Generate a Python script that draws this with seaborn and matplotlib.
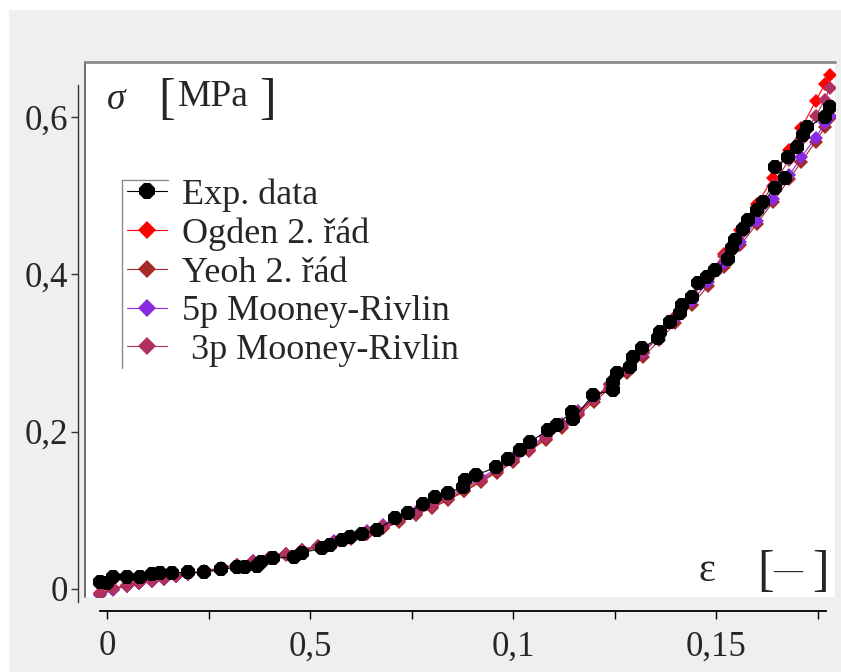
import matplotlib
matplotlib.use("Agg")
import matplotlib.pyplot as plt
from matplotlib.lines import Line2D
from matplotlib.patches import Rectangle
import seaborn as sns
import pandas as pd

# ---------------- data ----------------
eps_exp = [-0.0017, -0.0001, 0.0015, 0.0049, 0.0081, 0.011, 0.013, 0.016, 0.020, 0.024,
           0.028, 0.032, 0.034, 0.037, 0.038, 0.041, 0.046, 0.048, 0.053, 0.0549,
           0.058, 0.0599, 0.0627, 0.0664, 0.0709, 0.0741, 0.0778, 0.0808, 0.084, 0.0877,
           0.0882, 0.091, 0.0959, 0.0988, 0.1017, 0.1042, 0.1086, 0.1108, 0.1145, 0.1148,
           0.1197, 0.1246, 0.1246, 0.1256, 0.1288, 0.1296, 0.1318, 0.1357, 0.1362, 0.1387,
           0.1411, 0.1416, 0.1441, 0.1456, 0.1478, 0.1498, 0.153, 0.1539, 0.1547, 0.1567,
           0.1579, 0.1601, 0.1616, 0.1645, 0.167, 0.1645, 0.1677, 0.170, 0.1714, 0.1724,
           0.1768, 0.178]
sigma_exp = [0.0093, 0.0076, 0.0153, 0.0156, 0.0156, 0.019, 0.0207, 0.020, 0.022, 0.021,
             0.025, 0.0276, 0.0276, 0.029, 0.0347, 0.039, 0.041, 0.046, 0.052, 0.056,
             0.0623, 0.066, 0.070, 0.075, 0.090, 0.0966, 0.108, 0.117, 0.122, 0.130,
             0.1386, 0.145, 0.155, 0.165, 0.177, 0.187, 0.202, 0.2085, 0.2254, 0.216,
             0.2467, 0.253, 0.2636, 0.2746, 0.282, 0.295, 0.306, 0.319, 0.327, 0.3395,
             0.351, 0.361, 0.371, 0.389, 0.3967, 0.4056, 0.4196, 0.4336, 0.4437, 0.4577,
             0.469, 0.482, 0.492, 0.51, 0.5226, 0.5366, 0.549, 0.562, 0.577, 0.587,
             0.600, 0.613]

eps_model = [-0.0017, 0.0015, 0.005, 0.008, 0.011, 0.014, 0.017, 0.020, 0.024, 0.028,
             0.032, 0.036, 0.040, 0.044, 0.048, 0.052, 0.056, 0.060, 0.064, 0.068,
             0.072, 0.076, 0.080, 0.084, 0.088, 0.092, 0.096, 0.100, 0.104, 0.108,
             0.112, 0.116, 0.120, 0.124, 0.128, 0.132, 0.136, 0.140, 0.144, 0.148,
             0.152, 0.156, 0.160, 0.164, 0.168, 0.171, 0.1745, 0.1768, 0.178]
sigma_ogden = [-0.005, 0.001, 0.005, 0.008, 0.011, 0.014, 0.016, 0.019, 0.022, 0.026,
               0.030, 0.034, 0.039, 0.044, 0.049, 0.054, 0.059, 0.065, 0.071, 0.078,
               0.086, 0.095, 0.104, 0.114, 0.125, 0.137, 0.150, 0.163, 0.177, 0.191,
               0.207, 0.223, 0.241, 0.259, 0.279, 0.300, 0.322, 0.346, 0.371, 0.398,
               0.426, 0.457, 0.489, 0.522, 0.558, 0.586, 0.620, 0.642, 0.653]
sigma_yeoh = [-0.006, 0.000, 0.004, 0.007, 0.010, 0.013, 0.016, 0.019, 0.022, 0.026,
              0.030, 0.034, 0.039, 0.043, 0.048, 0.053, 0.058, 0.064, 0.070, 0.077,
              0.085, 0.094, 0.103, 0.113, 0.124, 0.136, 0.148, 0.161, 0.175, 0.190,
              0.205, 0.221, 0.238, 0.256, 0.275, 0.295, 0.316, 0.338, 0.361, 0.385,
              0.410, 0.437, 0.464, 0.492, 0.521, 0.543, 0.569, 0.587, 0.599]
sigma_mr5 = [-0.008, -0.001, 0.004, 0.007, 0.010, 0.013, 0.016, 0.019, 0.023, 0.027,
             0.031, 0.035, 0.040, 0.045, 0.050, 0.055, 0.061, 0.067, 0.074, 0.081,
             0.089, 0.098, 0.108, 0.118, 0.129, 0.141, 0.153, 0.166, 0.180, 0.195,
             0.210, 0.226, 0.243, 0.261, 0.280, 0.300, 0.321, 0.343, 0.366, 0.390,
             0.415, 0.441, 0.468, 0.496, 0.526, 0.549, 0.574, 0.592, 0.602]
sigma_mr3 = [-0.007, 0.000, 0.004, 0.007, 0.010, 0.013, 0.016, 0.019, 0.023, 0.027,
             0.031, 0.035, 0.040, 0.045, 0.050, 0.055, 0.060, 0.066, 0.073, 0.080,
             0.088, 0.097, 0.106, 0.116, 0.127, 0.139, 0.151, 0.164, 0.178, 0.193,
             0.208, 0.225, 0.242, 0.261, 0.280, 0.301, 0.323, 0.346, 0.371, 0.396,
             0.423, 0.452, 0.482, 0.513, 0.546, 0.571, 0.601, 0.622, 0.637]

series_labels = ["Exp. data", "Ogden 2. řád", "Yeoh 2. řád", "5p Mooney-Rivlin", " 3p Mooney-Rivlin"]
x_ticks = [0, 0.05, 0.1, 0.15]
x_ticklabels = ["0", "0,5", "0,1", "0,15"]
x_minor = [0.025, 0.075, 0.125, 0.175]
y_ticks = [0, 0.2, 0.4, 0.6]
y_ticklabels = ["0", "0,2", "0,4", "0,6"]

# ---------------- figure ----------------
sns.set_style("white")
plt.rcParams["font.family"] = ["Liberation Serif", "DejaVu Serif"]

W, H = 841, 672
fig = plt.figure(figsize=(W / 100, H / 100), dpi=100, facecolor="#efefef")
fig.patches.append(Rectangle((0, 1 - 9 / H), 1, 9 / H, transform=fig.transFigure,
                             color="white", zorder=-10))
fig.patches.append(Rectangle((0, 0), 8 / W, 1, transform=fig.transFigure,
                             color="white", zorder=-10))

ax = fig.add_axes([85 / W, 1 - 597 / H, 750 / W, 535 / H])
ax.set_facecolor("white")

models = [
    (eps_model, sigma_ogden, series_labels[1], "#ff0000", 2),
    (eps_model, sigma_yeoh, series_labels[2], "#a52a2a", 2),
    (eps_model, sigma_mr5, series_labels[3], "#8a2be2", 2),
    (eps_model, sigma_mr3, series_labels[4], "#b03060", 2),
]

sns.lineplot(x=eps_exp, y=sigma_exp, ax=ax, sort=False, estimator=None,
             color="black", marker="8", markersize=10.5, markeredgewidth=0,
             linewidth=0.8, label=series_labels[0], zorder=4)
for xs, ys, lab, col, z in models:
    sns.lineplot(x=xs, y=ys, ax=ax, sort=False, estimator=None,
                 color=col, marker="D", markersize=7, markeredgewidth=0,
                 linewidth=0.8, label=lab, zorder=z)

# limits
ax.set_xlim(-0.00542, 0.1793)
ax.set_ylim(-0.0102, 0.6701)

# spines
for s in ["top", "right"]:
    ax.spines[s].set_visible(False)
ax.spines["left"].set_position(("outward", 5))
ax.spines["left"].set_bounds(-0.0165, 0.641)
ax.spines["left"].set_color("#333333")
ax.spines["left"].set_linewidth(1.0)
ax.spines["bottom"].set_position(("outward", 10))
ax.spines["bottom"].set_bounds(-0.0017, 0.1771)
ax.spines["bottom"].set_color("black")
ax.spines["bottom"].set_linewidth(1.3)

# box border lines (left & top)
ax.add_line(Line2D([0, 0], [0, 1], transform=ax.transAxes, color="#555555",
                   lw=1.2, clip_on=False, zorder=5))
ax.add_line(Line2D([0, 1], [1, 1], transform=ax.transAxes, color="#8a8a8a",
                   lw=2.0, clip_on=False, zorder=5))

# ticks
ax.set_xticks(x_ticks)
ax.set_xticklabels(x_ticklabels)
ax.set_xticks(x_minor, minor=True)
ax.set_yticks(y_ticks)
ax.set_yticklabels(y_ticklabels)
ax.tick_params(axis="x", which="both", direction="out", length=6, width=1.0,
               bottom=True, labelsize=25, pad=8, color="black")
ax.tick_params(axis="y", which="major", direction="out", length=5, width=1.0,
               left=True, labelsize=25, pad=2, color="#333333")

# axis labels inside plot
ax.text(0.029, 0.929, "σ", transform=ax.transAxes, fontsize=27, style="italic",
        ha="left", va="center")
ax.text(0.097, 0.928, "[", transform=ax.transAxes, fontsize=36, ha="left", va="center")
ax.text(0.124, 0.935, "MPa", transform=ax.transAxes, fontsize=27, ha="left", va="center")
ax.text(0.232, 0.928, "]", transform=ax.transAxes, fontsize=36, ha="left", va="center")

ax.text(0.818, 0.048, "ε", transform=ax.transAxes, fontsize=29, ha="left", va="center")
ax.text(0.896, 0.046, "[", transform=ax.transAxes, fontsize=36, ha="left", va="center")
ax.text(0.918, 0.046, "—", transform=ax.transAxes, fontsize=21, ha="left", va="center")
ax.text(0.969, 0.046, "]", transform=ax.transAxes, fontsize=36, ha="left", va="center")

# legend
handles, labels = ax.get_legend_handles_labels()
leg = ax.legend(handles, labels, loc="upper left", bbox_to_anchor=(0.056, 0.782),
                frameon=False, fontsize=26, borderpad=0, borderaxespad=0,
                handlelength=1.1, handletextpad=0.42, labelspacing=0.15,
                markerscale=1.25)
# partial legend frame (left and top edges)
ax.add_line(Line2D([0.0493, 0.0493], [0.428, 0.7794], transform=ax.transAxes,
                   color="#8a8a8a", lw=1.0, clip_on=False, zorder=6))
ax.add_line(Line2D([0.0493, 0.1107], [0.7794, 0.7794], transform=ax.transAxes,
                   color="#8a8a8a", lw=1.0, clip_on=False, zorder=6))

fig.savefig("out.png", dpi=100, facecolor=fig.get_facecolor())
